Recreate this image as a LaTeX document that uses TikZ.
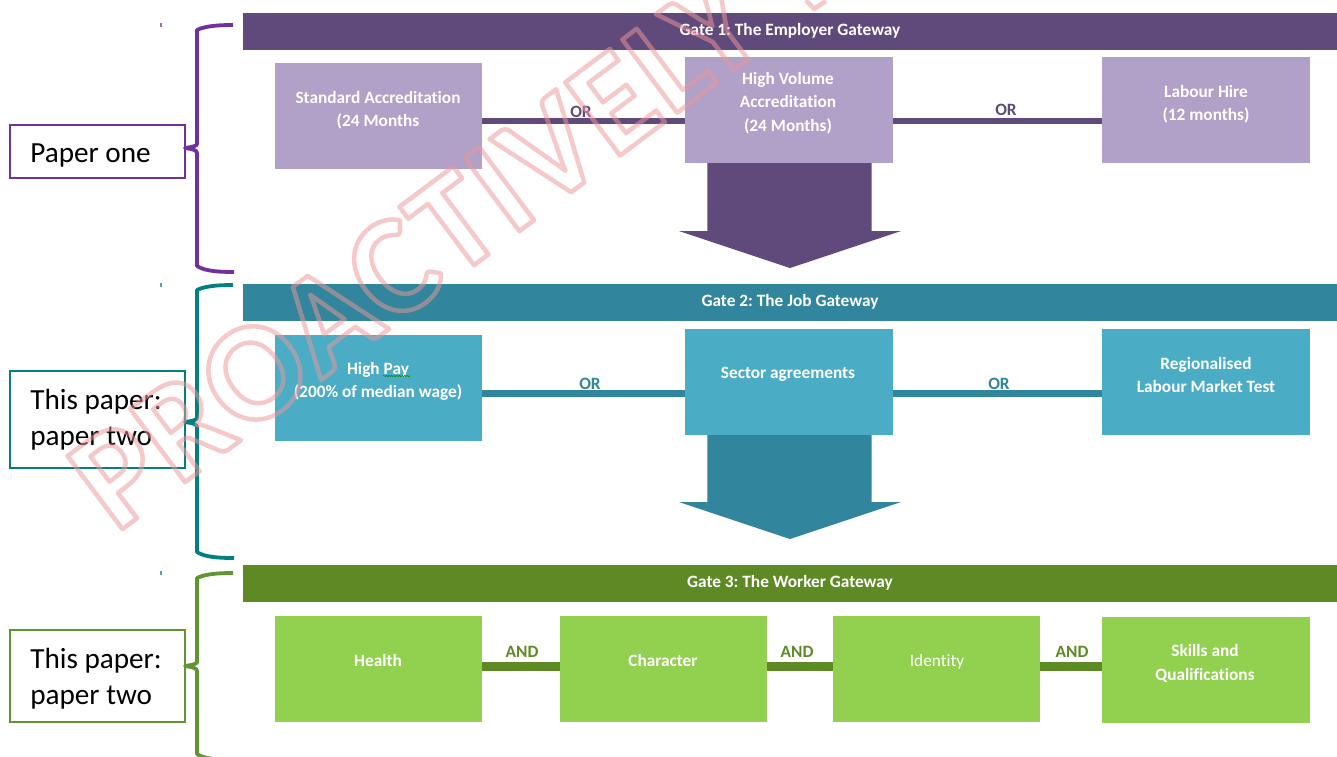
\documentclass[tikz,border=0pt]{standalone}
\usepackage{fontspec}
\setmainfont[Ligatures=NoCommon]{Carlito}
\newfontfamily\wmfont[LetterSpace=2.3]{Carlito}
\frenchspacing
\usetikzlibrary{decorations.pathmorphing}
\definecolor{barA}{HTML}{604A7B}
\definecolor{barB}{HTML}{31859C}
\definecolor{barC}{HTML}{5E8A26}
\definecolor{boxA}{HTML}{B1A0C7}
\definecolor{boxB}{HTML}{4BACC6}
\definecolor{boxC}{HTML}{92D050}
\definecolor{edgeA}{HTML}{7030A0}
\definecolor{edgeB}{HTML}{008080}
\definecolor{edgeC}{HTML}{5F9632}
\definecolor{wmark}{HTML}{EC9898}
\newcommand\outlinetext[1]{\special{pdf:code q 1 Tr 4.5 w 1 j 0.925 0.596 0.596 RG}#1\special{pdf:code Q}}
\newcommand\gbrace[4]{%
  \draw[#1,bracestroke] (233,#2) .. controls (213,#2) and (203,#2+2) .. (197,#2+5)
    -- (197,#3-4) .. controls (197,#3-2) and (192,#3-1) .. (185,#3)
    .. controls (192,#3+1) and (197,#3+2) .. (197,#3+5)
    -- (197,#4-6) .. controls (203,#4-2) and (213,#4) .. (234,#4);}
\tikzset{
  x=1pt,y=-1pt,
  bracestroke/.style={line width=3.8pt,line join=round},
  gatebar/.style={anchor=north west,inner sep=0pt,minimum width=1095pt,minimum height=37pt},
  gatetext/.style={text=white,inner sep=0pt,font=\fontsize{17.3}{20}\bfseries\selectfont},
  stepbox/.style={anchor=north west,inner sep=0pt,minimum width=207pt,minimum height=106pt},
  boxtext/.style={text=white,align=flush center,inner sep=0pt,font=\fontsize{17.3}{23.5}\bfseries\selectfont},
  linkword/.style={inner sep=0pt,font=\fontsize{17.3}{20}\bfseries\selectfont},
  paperbox/.style={draw,line width=2pt,fill=white,anchor=north west,minimum width=174.4pt,text width=134.4pt,inner xsep=20pt,inner ysep=0pt,align=flush left,text=black,font=\fontsize{29.2}{36}\selectfont},
}
\begin{document}
\begin{tikzpicture}
\useasboundingbox (0,0) rectangle (1337,756);
\fill[white] (0,0) rectangle (1337,756);
% small marks
\fill[edgeA!70] (160,23) rectangle (162,27);
\fill[edgeB!70] (160,283) rectangle (162,287);
\fill[edgeB!70] (160,571) rectangle (162,575);
% rails
\coordinate (railA) at (0,121);
\coordinate (railB) at (0,393);
\coordinate (railC) at (0,666.5);
% gate bars
\node[gatebar,fill=barA] (gateA) at (242.3,13) {};
\node[gatebar,fill=barB] (gateB) at (242.3,284) {};
\node[gatebar,fill=barC] (gateC) at (242.3,565) {};
\node[gatetext] (gateAt) at (790,31) {Gate 1: The Employer Gateway};
\node[gatetext] (gateBt) at (790,302) {Gate 2: The Job Gateway};
\node[gatetext] (gateCt) at (790,583) {Gate 3: The Worker Gateway};
% block arrows
\fill[barA] (707.3,163) -- (871.7,163) -- (871.7,231) -- (901,231) -- (790,268) -- (679,231) -- (707.3,231) -- cycle;
\fill[barB] (707.3,435) -- (871.7,435) -- (871.7,502) -- (901,502) -- (790,539) -- (679,502) -- (707.3,502) -- cycle;
% boxes
\node[stepbox,fill=boxA] (std) at (275,63) {};
\node[stepbox,fill=boxA,minimum width=208pt] (hv) at (685,57) {};
\node[stepbox,fill=boxA,minimum width=208pt] (lab) at (1102,57) {};
\node[stepbox,fill=boxB] (pay) at (275,334.5) {};
\node[stepbox,fill=boxB,minimum width=208pt] (sec) at (685,329) {};
\node[stepbox,fill=boxB,minimum width=208pt] (reg) at (1102,329) {};
\node[stepbox,fill=boxC] (hea) at (275,615.5) {};
\node[stepbox,fill=boxC] (cha) at (560,615.5) {};
\node[stepbox,fill=boxC] (ide) at (833,615.5) {};
\node[stepbox,fill=boxC,minimum width=208pt] (ski) at (1102,616.5) {};
% links
\draw[barA,line width=6pt] (std.east |- railA) -- (hv.west |- railA);
\draw[barA,line width=6pt] (hv.east |- railA) -- (lab.west |- railA);
\draw[barB,line width=7pt] (pay.east |- railB) -- (sec.west |- railB);
\draw[barB,line width=7pt] (sec.east |- railB) -- (reg.west |- railB);
\draw[barC,line width=9pt] (hea.east |- railC) -- (cha.west |- railC);
\draw[barC,line width=9pt] (cha.east |- railC) -- (ide.west |- railC);
\draw[barC,line width=9pt] (ide.east |- railC) -- (ski.west |- railC);
\node[linkword,text=barA] (orA) at (581,112) {OR};
\node[linkword,text=barA] (orB) at (1006,110) {OR};
\node[linkword,text=barB] (orC) at (590,383.7) {OR};
\node[linkword,text=barB] (orD) at (999,383.7) {OR};
\node[linkword,text=barC] (anA) at (522,652.3) {AND};
\node[linkword,text=barC] (anB) at (797,652.3) {AND};
\node[linkword,text=barC] (anC) at (1072,652.3) {AND};
% box texts
\node[boxtext] (stdt) at (378,110) {Standard Accreditation\\(24 Months};
\node[boxtext] (hvt) at (788,103) {High Volume\\Accreditation\\(24 Months)};
\node[boxtext] (labt) at (1206,104) {Labour Hire\\(12 months)};
\node[boxtext] (payt) at (378,381.5) {High Pay\\(200\% of median wage)};
\node[boxtext] (sect) at (788,374.5) {Sector agreements};
\node[boxtext] (regt) at (1206,375) {Regionalised\\Labour Market Test};
\node[boxtext] (heat) at (378,660.5) {Health};
\node[boxtext] (chat) at (663,660.5) {Character};
\node[boxtext,font=\fontsize{17.3}{23.5}\selectfont] (idet) at (937,662) {Identity};
\node[boxtext] (skit) at (1205,663.5) {Skills and\\Qualifications};
\draw[green!55!black,line width=.6pt,decorate,decoration={snake,amplitude=.6pt,segment length=2.6pt}] (383,376) -- (410,376);
% paper labels
\node[paperbox,draw=edgeA,minimum height=52.7pt] (pA) at (9.3,124) {\rule{0pt}{27pt}Paper one};
\node[paperbox,draw=edgeB,minimum height=97.3pt] (pB) at (9.3,370) {This paper:\\paper two};
\node[paperbox,draw=edgeC,minimum height=92.6pt] (pC) at (9.3,628.7) {\rule{0pt}{25pt}This paper:\\paper two};
% braces
\gbrace{edgeA}{25}{148}{272}
\gbrace{edgeB}{285}{422}{558}
\gbrace{edgeC}{573}{666}{760}
% watermark
\begin{scope}[opacity=.52]
\node[rotate=36.9,anchor=base west,inner sep=0pt,font=\wmfont\fontsize{141}{141}\bfseries\selectfont] (wm) at (116,534) {\outlinetext{PROACTIVELY}};
\draw[wmark,line width=4.5pt,line join=round] (806,0) -- (814,9) -- (826,1);
\end{scope}
\end{tikzpicture}
\end{document}
